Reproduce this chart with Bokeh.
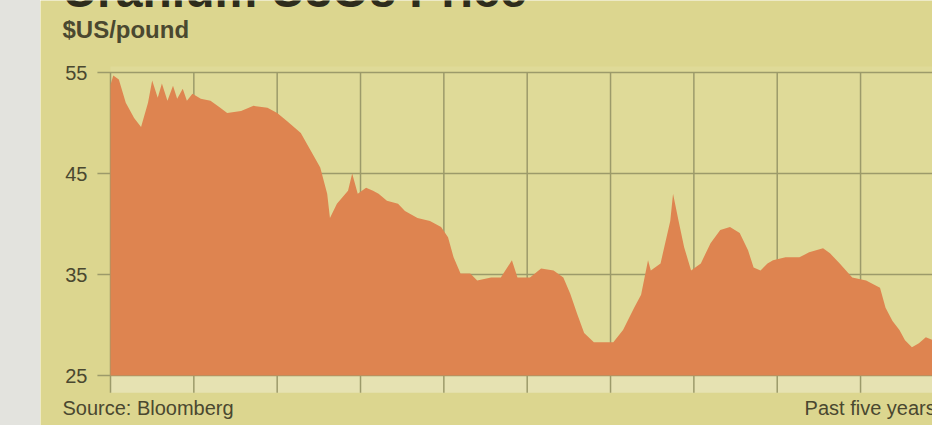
from bokeh.plotting import figure
from bokeh.models import Range1d, Spacer
from bokeh.layouts import row
from bokeh.core.properties import value
from bokeh.embed import file_html
from bokeh.resources import INLINE

# Uranium spot price, $US/pound, over the past five years (x = months from start)
months = [0.0, 0.2, 0.6, 1.1, 1.7, 2.2, 2.7, 3.0, 3.4, 3.7, 4.1, 4.5, 4.8, 5.2, 5.5,
          5.9, 6.5, 7.2, 7.9, 8.4, 9.4, 10.3, 11.3, 12.0, 12.7, 13.7, 14.4, 15.1,
          15.6, 15.8, 16.3, 17.1, 17.4, 17.8, 18.4, 18.9, 19.3, 19.9, 20.7, 21.2,
          22.1, 23.0, 23.8, 24.3, 24.7, 25.2, 25.9, 26.4, 27.4, 28.1, 28.9, 29.3,
          30.2, 31.0, 31.9, 32.6, 33.1, 33.6, 34.1, 34.8, 36.2, 36.9, 37.7, 38.2,
          38.7, 38.9, 39.6, 40.3, 40.5, 40.9, 41.3, 41.8, 42.5, 43.2, 43.9, 44.6,
          45.3, 45.9, 46.3, 46.8, 47.3, 47.7, 48.6, 49.6, 50.3, 51.3, 51.8, 52.5,
          53.4, 54.4, 55.4, 55.8, 56.3, 56.8, 57.2, 57.7, 58.2, 58.7, 59.2]
prices = [53.8, 54.7, 54.3, 52.0, 50.5, 49.6, 52.0, 54.2, 52.5, 53.9, 52.2, 53.7, 52.4,
          53.4, 52.2, 52.9, 52.4, 52.2, 51.5, 51.0, 51.2, 51.7, 51.5, 51.0, 50.2, 49.0,
          47.3, 45.6, 43.0, 40.6, 42.0, 43.3, 45.0, 43.0, 43.6, 43.3, 43.0, 42.3, 42.0,
          41.3, 40.6, 40.3, 39.7, 38.7, 36.7, 35.1, 35.1, 34.4, 34.7, 34.7, 36.4, 34.7,
          34.7, 35.6, 35.4, 34.7, 33.1, 31.1, 29.2, 28.3, 28.3, 29.5, 31.7, 33.0, 36.4,
          35.4, 36.1, 40.3, 43.0, 40.3, 37.7, 35.4, 36.1, 38.1, 39.4, 39.7, 39.1, 37.4,
          35.7, 35.4, 36.1, 36.4, 36.7, 36.7, 37.2, 37.6, 37.1, 36.1, 34.7, 34.4, 33.7,
          31.7, 30.4, 29.5, 28.5, 27.8, 28.2, 28.8, 28.5]

y_ticks = [25, 35, 45, 55]
y_labels = ["25", "35", "45", "55"]
x_grid = [0, 6, 12, 18, 24, 30, 36, 42, 48, 54]

title_text = "Uranium U3O8 Price"
unit_text = "$US/pound"
source_text = "Source: Bloomberg"
period_text = "Past five years"

PAPER = "#dcd68f"
PLOT_BG = "#dfda98"
STRIP = "#e6e2b2"
ORANGE = "#de8450"
GRID = "#9c9a6a"
INK = "#4a4830"
FONT = value("Liberation Sans")

# x in months, y in $US/pound; the view also covers the surrounding margins
X0, X1 = -5.04, 59.18
Y0, Y1 = 20.05, 62.13
BASE = 25
STRIP_BOTTOM = 23.3
TOP = 55.6
STUB = -0.94

p = figure(width=892, height=425, output_backend="svg", toolbar_location=None,
           x_range=Range1d(X0, X1), y_range=Range1d(Y0, Y1),
           min_border=0)
p.axis.visible = False
p.grid.visible = False
p.outline_line_color = None
p.background_fill_color = PAPER
p.border_fill_color = PAPER

# chart panel and the pale strip beneath the baseline
p.quad(left=0, right=X1, bottom=BASE, top=TOP, fill_color=PLOT_BG, line_color=None)
p.quad(left=0, right=X1, bottom=STRIP_BOTTOM, top=BASE, fill_color=STRIP, line_color=None)

# grid: half-yearly verticals, price levels with short stubs past the left edge
p.segment(x0=x_grid, y0=[STRIP_BOTTOM] * len(x_grid), x1=x_grid, y1=[max(y_ticks)] * len(x_grid),
          line_color=GRID, line_width=1.5)
p.segment(x0=[STUB] * len(y_ticks), y0=y_ticks, x1=[X1] * len(y_ticks), y1=y_ticks,
          line_color=GRID, line_width=1.5)

p.varea(x=months, y1=BASE, y2=prices, fill_color=ORANGE, fill_alpha=1.0)

# price level labels
p.text(x=[-1.66] * len(y_ticks), y=y_ticks, text=y_labels, text_font=FONT,
       text_font_size="20px", text_color=INK, text_align="right",
       text_baseline="middle")

# headline runs off the top edge of the clipping
p.text(x=[-3.46], y=[63.1], text=[title_text], text_font=FONT,
       text_font_size="48px", text_font_style="bold", text_color="#2e2c1c",
       text_baseline="alphabetic")
p.text(x=[-3.46], y=[59.26], text=[unit_text], text_font=FONT,
       text_font_size="24px", text_font_style="bold", text_color=INK,
       text_baseline="middle")
p.text(x=[-3.46, 49.97], y=[21.83, 21.83], text=[source_text, period_text],
       text_font=FONT, text_font_size="20px", text_color=INK,
       text_baseline="middle")

margin = Spacer(width=40, height=425, styles={"background-color": "#e3e3de"})
layout = row(margin, p, spacing=0)

open("out.html", "w").write(file_html(layout, INLINE))
